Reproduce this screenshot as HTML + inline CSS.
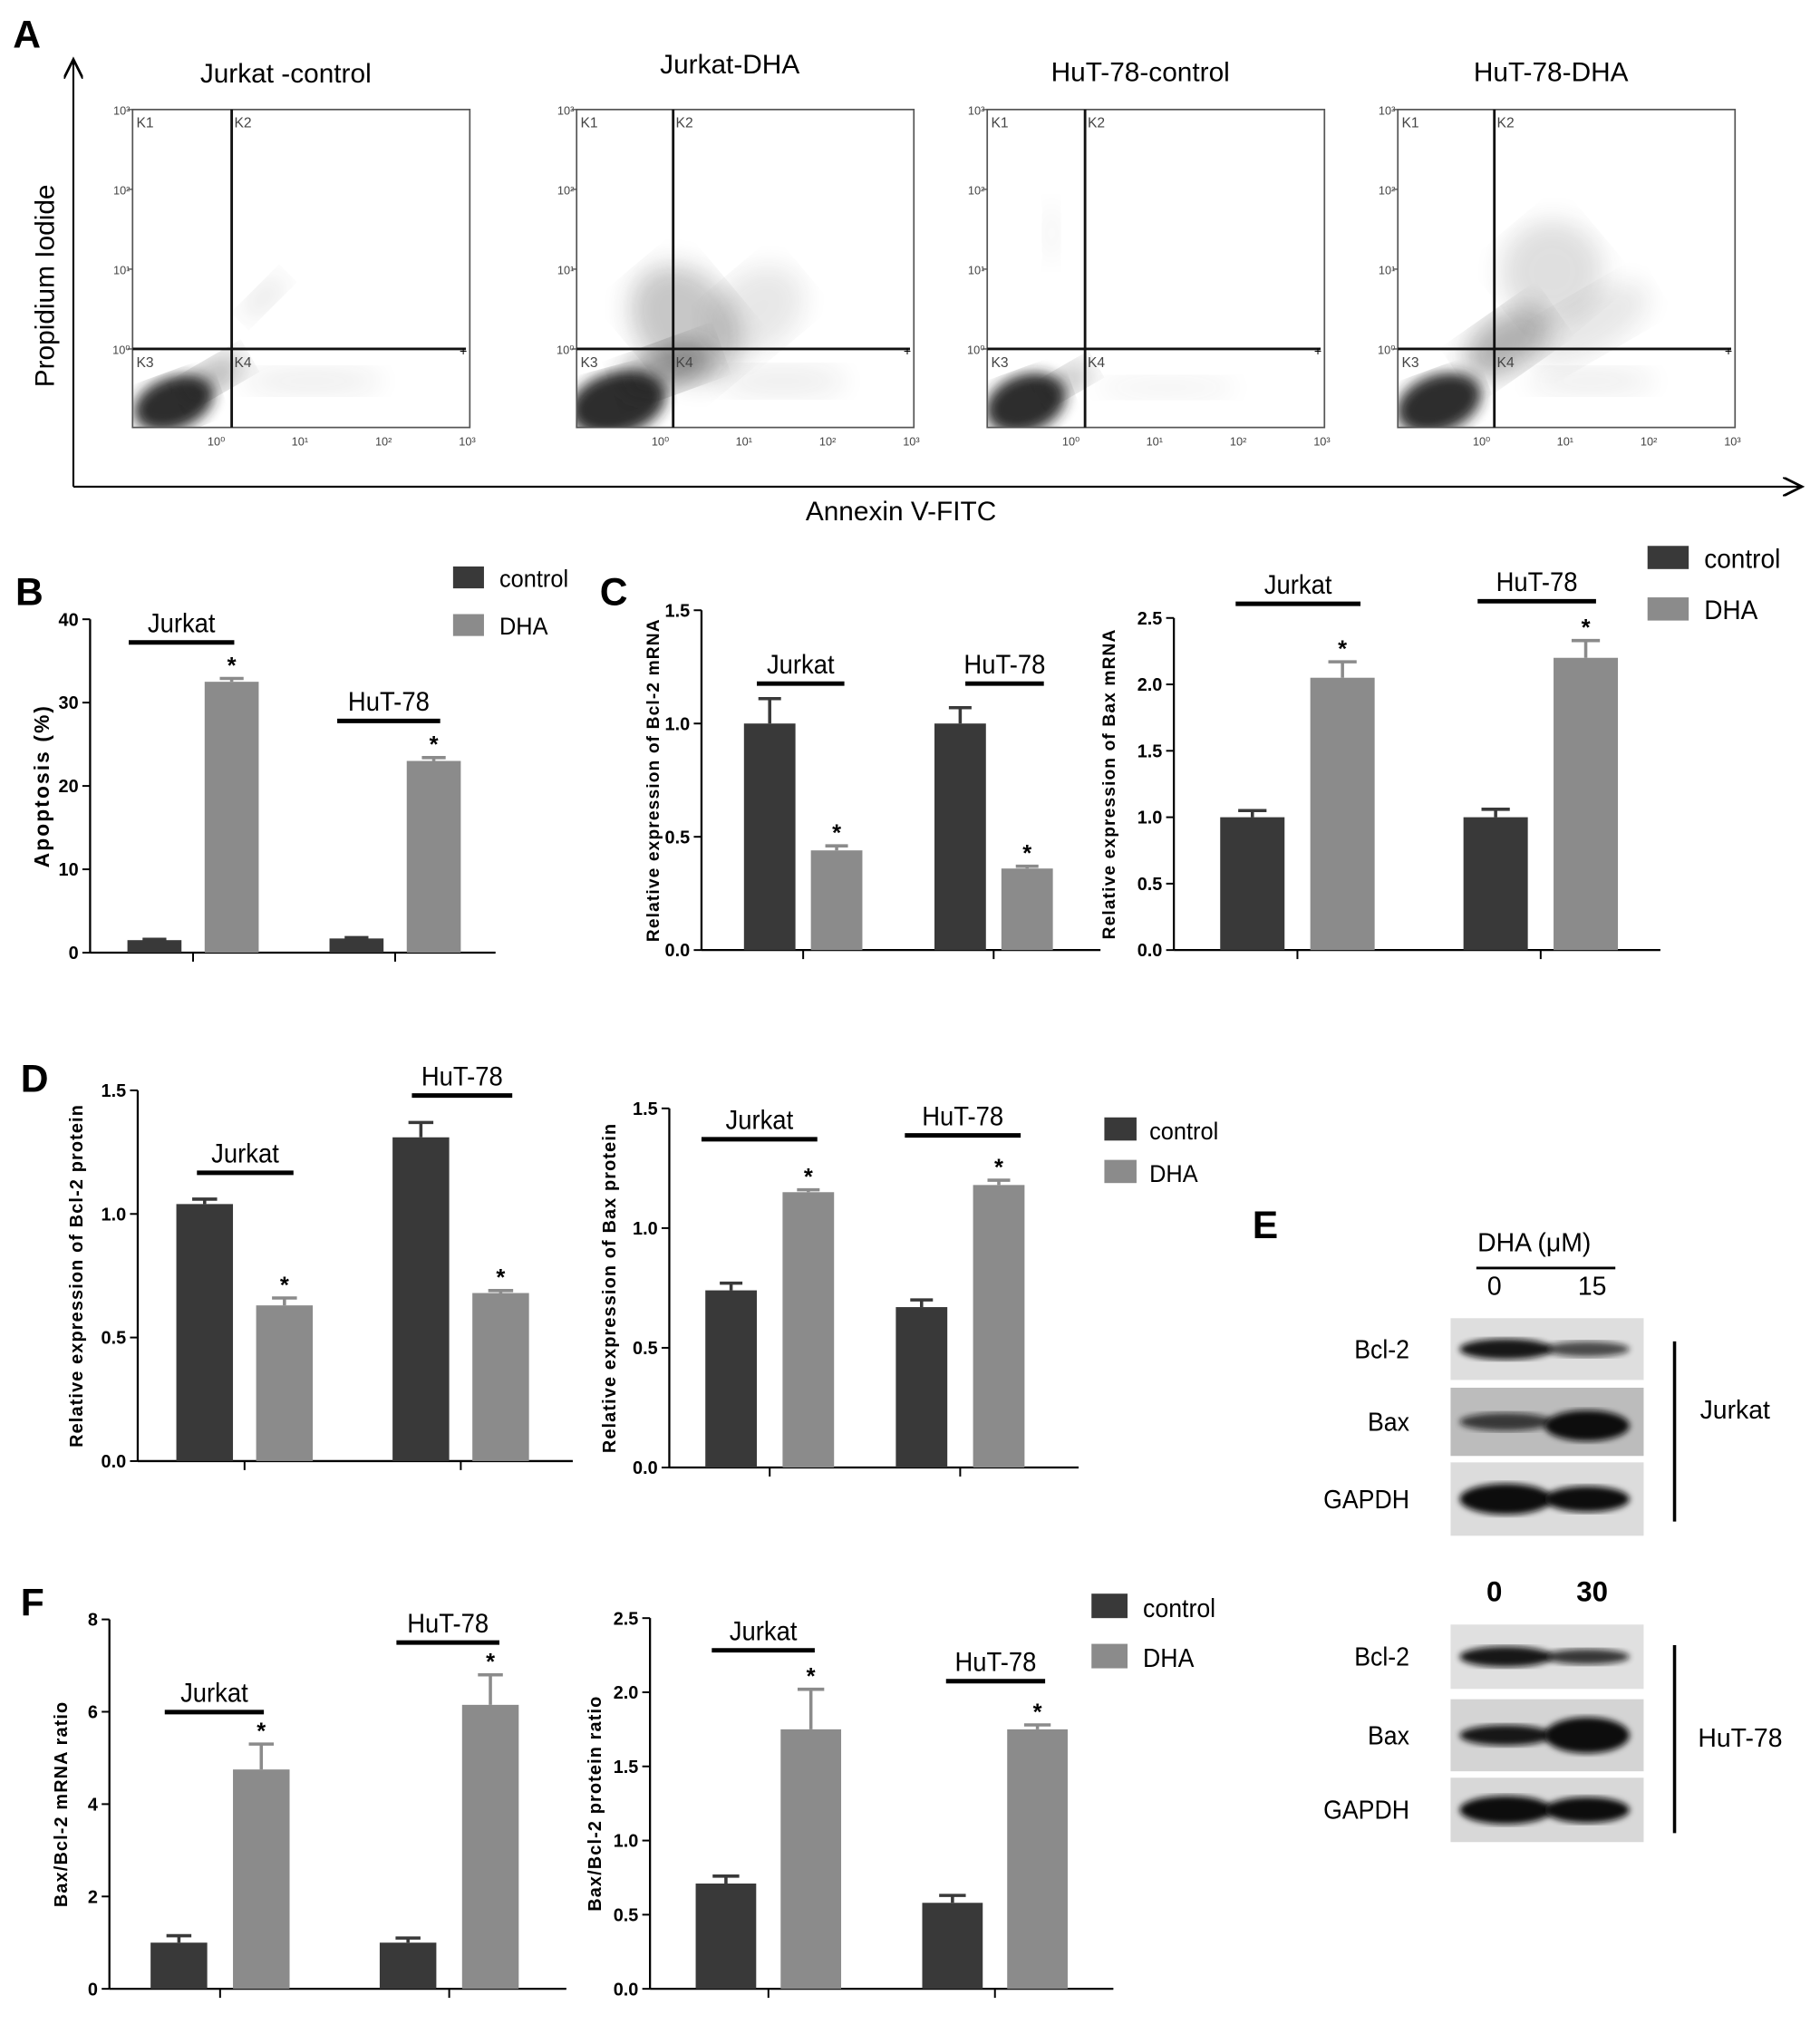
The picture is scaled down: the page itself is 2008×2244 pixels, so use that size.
<!DOCTYPE html>
<html><head><meta charset="utf-8">
<style>
html,body{margin:0;padding:0;background:#fff;}
svg{display:block;}
text{font-family:"Liberation Sans",sans-serif;}
</style></head>
<body>
<svg id="fig" width="2008" height="2244" viewBox="0 0 1414 1580" xmlns="http://www.w3.org/2000/svg">
<defs>
<filter id="blur2"><feGaussianBlur stdDeviation="2.5"/></filter>
<filter id="blur4"><feGaussianBlur stdDeviation="5"/></filter>
<filter id="blur8"><feGaussianBlur stdDeviation="10"/></filter>
<marker id="arr" markerWidth="12" markerHeight="10" refX="10" refY="5" orient="auto"><path d="M0,0 L10,5 L0,10" fill="none" stroke="#000" stroke-width="1.3"/></marker>
</defs>
<g id="root"></g>
</svg>
<script>
// ---------- DATA ----------
const groups = ["Jurkat","HuT-78"];
const seriesNames = ["control","DHA"];
// B apoptosis
const bVals = [1.5,32.5,1.7,23];
const bErr  = [0.1,0.4,0.1,0.4];
const bTicks = ["0","10","20","30","40"];
// C Bcl-2 mRNA
const c1Vals = [1.0,0.44,1.0,0.36];
const c1Err  = [0.11,0.02,0.07,0.01];
const c1Ticks = ["0.0","0.5","1.0","1.5"];
// C Bax mRNA
const c2Vals = [1.0,2.05,1.0,2.2];
const c2Err  = [0.05,0.12,0.06,0.13];
const c2Ticks = ["0.0","0.5","1.0","1.5","2.0","2.5"];
// D Bcl-2 protein
const d1Vals = [1.04,0.63,1.31,0.68];
const d1Err  = [0.02,0.03,0.06,0.01];
const d1Ticks = ["0.0","0.5","1.0","1.5"];
// D Bax protein
const d2Vals = [0.74,1.15,0.67,1.18];
const d2Err  = [0.03,0.01,0.03,0.02];
const d2Ticks = ["0.0","0.5","1.0","1.5"];
// F mRNA ratio
const f1Vals = [1.0,4.75,1.0,6.15];
const f1Err  = [0.15,0.55,0.1,0.65];
const f1Ticks = ["0","2","4","6","8"];
// F protein ratio
const f2Vals = [0.71,1.75,0.58,1.75];
const f2Err  = [0.05,0.27,0.05,0.03];
const f2Ticks = ["0.0","0.5","1.0","1.5","2.0","2.5"];

const NS="http://www.w3.org/2000/svg";
const root=document.getElementById('root');
function el(tag,attrs,parent,txt){const e=document.createElementNS(NS,tag);for(const k in attrs)e.setAttribute(k,attrs[k]);if(txt!==undefined)e.textContent=txt;(parent||root).appendChild(e);return e;}
const DARK="#393939", LIGHT="#8b8b8b";

function barChart(c){
  const g=el('g',{});
  
  
  const yScale=v=>c.y0-(v/c.max)*(c.y0-c.yTop);
  const ya=el('line',{x1:c.ax,y1:c.yTop,x2:c.ax,y2:c.y0,stroke:"#000","stroke-width":1.6},g);
  
  const xa=el('line',{x1:c.ax,y1:c.y0,x2:c.xEnd,y2:c.y0,stroke:"#000","stroke-width":1.6},g);
  
  c.ticks.forEach((t,i)=>{
    const v=i*c.max/(c.ticks.length-1);const y=yScale(v);
    el('line',{x1:c.ax-6,y1:y,x2:c.ax,y2:y,stroke:"#000","stroke-width":1.4},g);
    const tl=el('text',{x:c.ax-9,y:y+5,"text-anchor":"end","font-size":c.tfs||14,"font-weight":"bold"},g,t);
    
  });
  c.centers.forEach(cx=>el('line',{x1:cx,y1:c.y0,x2:cx,y2:c.y0+7,stroke:"#000","stroke-width":1.4},g));
  c.vals.forEach((v,i)=>{
    const gi=Math.floor(i/2), s=i%2;
    const cx=c.centers[gi]+(s===0?-c.off:c.off);
    const x=cx-c.bw/2, y=yScale(v);
    const r=el('rect',{x:x,y:y,width:c.bw,height:c.y0-y,fill:s===0?DARK:LIGHT},g);
    
    
    const ye=yScale(v+c.err[i]);
    el('line',{x1:cx,y1:y,x2:cx,y2:ye,stroke:s===0?DARK:LIGHT,"stroke-width":2.5},g);
    el('line',{x1:cx-c.bw*0.22,y1:ye,x2:cx+c.bw*0.22,y2:ye,stroke:s===0?DARK:LIGHT,"stroke-width":2.5},g);
    if(s===1){const st=el('text',{x:cx,y:ye-4,"text-anchor":"middle","font-size":18,"font-weight":"bold"},g,"*");
      }
  });
  const yl=el('text',{x:0,y:0,transform:`translate(${c.lx},${(c.y0+c.yTop)/2+(c.lyOff||0)}) rotate(-90)`,"text-anchor":"middle","font-size":c.lfs||14,"font-weight":"bold","letter-spacing":c.ls||0.8},g,c.label);
  
  c.glabels.forEach((gl,i)=>{
    const t=el('text',{x:(gl[0]+gl[1])/2,y:gl[2]-8,"text-anchor":"middle","font-size":c.gfs||21,"transform-origin":`${(gl[0]+gl[1])/2} ${gl[2]}`,transform:"scale(0.92,1)"},g,groups[i]);
    
    el('line',{x1:gl[0],y1:gl[2],x2:gl[1],y2:gl[2],stroke:"#000","stroke-width":3.5},g);
  });
}
function legend(x,y1,y2,w,h,fs,tx){
  [[y1,DARK,"control"],[y2,LIGHT,"DHA"]].forEach(([y,col,lab])=>{
    const g=el('g',{});
    el('rect',{x:x,y:y,width:w,height:h,fill:col},g);
    el('text',{x:tx,y:y+h-1,"font-size":fs,transform:`translate(${tx*0.06},0) scale(0.94,1)`},g,lab);
  });
}

// ---------- PANEL LETTERS ----------
[["A",10,37],["B",12,470],["C",466,470],["D",16,848],["E",973,962],["F",16,1255]].forEach(([l,x,y])=>{
  const t=el('text',{x:x,y:y,"font-size":30,"font-weight":"bold"},root,l);
  
});

// ---------- PANEL A ----------
el('line',{x1:57,y1:378,x2:57,y2:46,stroke:"#000","stroke-width":1.5,"marker-end":"url(#arr)"});
el('line',{x1:57,y1:378,x2:1400,y2:378,stroke:"#000","stroke-width":1.5,"marker-end":"url(#arr)"});
{const t=el('text',{x:0,y:0,transform:"translate(42,222) rotate(-90)","text-anchor":"middle","font-size":21},root,"Propidium Iodide");}
{const t=el('text',{x:700,y:404,"text-anchor":"middle","font-size":21},root,"Annexin V-FITC");}
const flowTitles=["Jurkat -control","Jurkat-DHA","HuT-78-control","HuT-78-DHA"];
const flowLeft=[103,448,767,1086], flowTitleY=[64,57,63,63];
const flowQx=[180,523,843,1161];
const clouds=[
 [[42,42,32,20,0.95,-20],[72,22,28,12,0.35,-30],[112,-40,22,8,0.12,-45],[150,25,55,10,0.08,0]],
 [[42,42,38,24,0.95,-15],[95,-20,38,50,0.25,-40],[80,15,38,18,0.4,-20],[150,-30,40,30,0.1,-40],[170,25,50,12,0.08,0]],
 [[40,42,32,22,0.95,-20],[72,25,22,10,0.3,-30],[60,-90,6,25,0.06,0],[150,30,55,8,0.06,0]],
 [[42,42,34,22,0.95,-20],[95,-5,38,22,0.35,-35],[130,-60,40,40,0.14,-40],[160,-20,50,22,0.1,-30],[160,25,50,10,0.08,0]]
];
flowTitles.forEach((ti,k)=>{
  const g=el('g',{});
  const L=flowLeft[k],T=85,W=262,H=247,qx=flowQx[k],qy=271;
  const defs=el('defs',{},g);
  const cp=el('clipPath',{id:'cp'+k},defs);
  el('rect',{x:L,y:T,width:W,height:H},cp);
  const t=el('text',{x:L+W/2-12,y:flowTitleY[k],"text-anchor":"middle","font-size":21},g,ti);
  
  const cl=el('g',{"clip-path":`url(#cp${k})`},g);
  clouds[k].forEach(([cx,cy,rx,ry,op,rot],j)=>{
    el('ellipse',{cx:L+cx-10,cy:qy+cy,rx:rx,ry:ry,fill:"#222",opacity:op,filter:j===0?"url(#blur4)":"url(#blur8)",transform:`rotate(${rot} ${L+cx-10} ${qy+cy})`},cl);
  });
  el('rect',{x:L,y:T,width:W,height:H,fill:"none",stroke:"#555","stroke-width":1.2},g);
  el('line',{x1:qx,y1:T,x2:qx,y2:T+H,stroke:"#111","stroke-width":2},g);
  el('line',{x1:L,y1:qy,x2:L+W-3,y2:qy,stroke:"#111","stroke-width":2},g);
  el('text',{x:L+W-8,y:qy+5,"font-size":10},g,"+");
  [["K1",L+3,T+14],["K2",qx+2,T+14],["K3",L+3,qy+14],["K4",qx+2,qy+14]].forEach(([s,x,y])=>el('text',{x:x,y:y,"font-size":11,fill:"#444"},g,s));
  ["10³","10²","10¹","10⁰"].forEach((s,i)=>{const y=T+i*62;el('text',{x:L-2,y:y+4,"text-anchor":"end","font-size":9,fill:"#444"},g,s);el('line',{x1:L-4,y1:y,x2:L,y2:y,stroke:"#555"},g);});
  ["10⁰","10¹","10²","10³"].forEach((s,i)=>{const x=L+65+i*65;el('text',{x:x,y:T+H+14,"text-anchor":"middle","font-size":9,fill:"#444"},g,s);});
});

// ---------- PANEL B ----------
barChart({name:"apoptosis-chart",ax:70,yTop:481,y0:740,xEnd:385,max:40,ticks:bTicks,vals:bVals,err:bErr,
  centers:[150,307],off:30,bw:42,lx:38,label:"Apoptosis (%)",lfs:16,ls:1.5,
  glabels:[[100,182,499],[262,342,560]]});
legend(352,440,477,24,17,19,388);

// ---------- PANEL C ----------
barChart({name:"bcl2-mrna-chart",ax:545,yTop:474,y0:738,xEnd:855,max:1.5,ticks:c1Ticks,vals:c1Vals,err:c1Err,
  centers:[624,772],off:26,bw:40,lx:512,label:"Relative expression of Bcl-2 mRNA",lfs:13.5,
  glabels:[[588,656,531],[750,811,531]]});
barChart({name:"bax-mrna-chart",ax:912,yTop:480,y0:738,xEnd:1290,max:2.5,ticks:c2Ticks,vals:c2Vals,err:c2Err,
  centers:[1008,1197],off:35,bw:50,lx:866,label:"Relative expression of Bax mRNA",lfs:13.5,
  glabels:[[960,1057,469],[1148,1240,467]]});
legend(1280,424,464,32,18,21,1324);

// ---------- PANEL D ----------
barChart({name:"bcl2-protein-chart",ax:107,yTop:847,y0:1135,xEnd:445,max:1.5,ticks:d1Ticks,vals:d1Vals,err:d1Err,
  centers:[190,358],off:31,bw:44,lx:64,label:"Relative expression of Bcl-2 protein",lfs:14,
  glabels:[[153,228,911],[320,398,851]]});
barChart({name:"bax-protein-chart",ax:520,yTop:861,y0:1140,xEnd:838,max:1.5,ticks:d2Ticks,vals:d2Vals,err:d2Err,
  centers:[598,746],off:30,bw:40,lx:478,label:"Relative expression of Bax protein",lfs:14,
  glabels:[[545,635,885],[703,793,882]]});
legend(858,868,901,25,18,19,893);

// ---------- PANEL E (western blot) ----------
function blot(top,rows,nums,serif){
  const g=el('g',{});
  nums.forEach((n,i)=>el('text',{x:[1161,1237][i],y:top-20,"text-anchor":"middle","font-size":serif?22:20,"font-weight":serif?"bold":"normal","font-family":serif?"Liberation Serif":"Liberation Sans"},g,n));
  rows.forEach(([lab,y,h,bg,b1,b2])=>{
    el('rect',{x:1127,y:y,width:150,height:h,fill:bg},g);
    el('ellipse',{cx:1170,cy:y+h/2,rx:36,ry:b1[0],fill:"#111",opacity:b1[1],filter:"url(#blur2)"},g);
    el('ellipse',{cx:1233,cy:y+h/2+(b2[2]||0),rx:33,ry:b2[0],fill:"#111",opacity:b2[1],filter:"url(#blur2)"},g);
    const t=el('text',{x:1095,y:y+h/2+7,"text-anchor":"end","font-size":20,transform:`translate(${1095*0.06},0) scale(0.94,1)`},g,lab);
    
  });
}
{const t=el('text',{x:1192,y:972,"text-anchor":"middle","font-size":20},root,"DHA (μM)");}
el('line',{x1:1147,y1:985,x2:1255,y2:985,stroke:"#000","stroke-width":2});
blot(1026,[["Bcl-2",1024,48,"#dedede",[8,0.95],[6,0.7]],["Bax",1078,53,"#bcbcbc",[7,0.75],[12,1,3]],["GAPDH",1136,57,"#dcdcdc",[12,1],[10,1]]],["0","15"],false);
blot(1264,[["Bcl-2",1262,50,"#e0e0e0",[8,0.95],[6,0.8]],["Bax",1320,56,"#d4d4d4",[8,0.95],[14,1]],["GAPDH",1381,50,"#d8d8d8",[11,1],[10,1]]],["0","30"],true);
el('line',{x1:1301,y1:1042,x2:1301,y2:1182,stroke:"#000","stroke-width":2.5});
el('line',{x1:1301,y1:1278,x2:1301,y2:1424,stroke:"#000","stroke-width":2.5});
{const t=el('text',{x:1348,y:1102,"text-anchor":"middle","font-size":20},root,"Jurkat");}
{const t=el('text',{x:1352,y:1357,"text-anchor":"middle","font-size":20},root,"HuT-78");}

// ---------- PANEL F ----------
barChart({name:"bax-bcl2-mrna-ratio-chart",ax:85,yTop:1258,y0:1545,xEnd:440,max:8,ticks:f1Ticks,vals:f1Vals,err:f1Err,
  centers:[171,349],off:32,bw:44,lx:52,label:"Bax/Bcl-2 mRNA ratio",lfs:14,
  glabels:[[128,205,1330],[308,388,1276]]});
barChart({name:"bax-bcl2-protein-ratio-chart",ax:505,yTop:1257,y0:1545,xEnd:865,max:2.5,ticks:f2Ticks,vals:f2Vals,err:f2Err,
  centers:[597,773],off:33,bw:47,lx:467,label:"Bax/Bcl-2 protein ratio",lfs:14,
  glabels:[[553,633,1282],[735,812,1306]]});
legend(848,1238,1277,28,19,20,888);
</script>
</body></html>
